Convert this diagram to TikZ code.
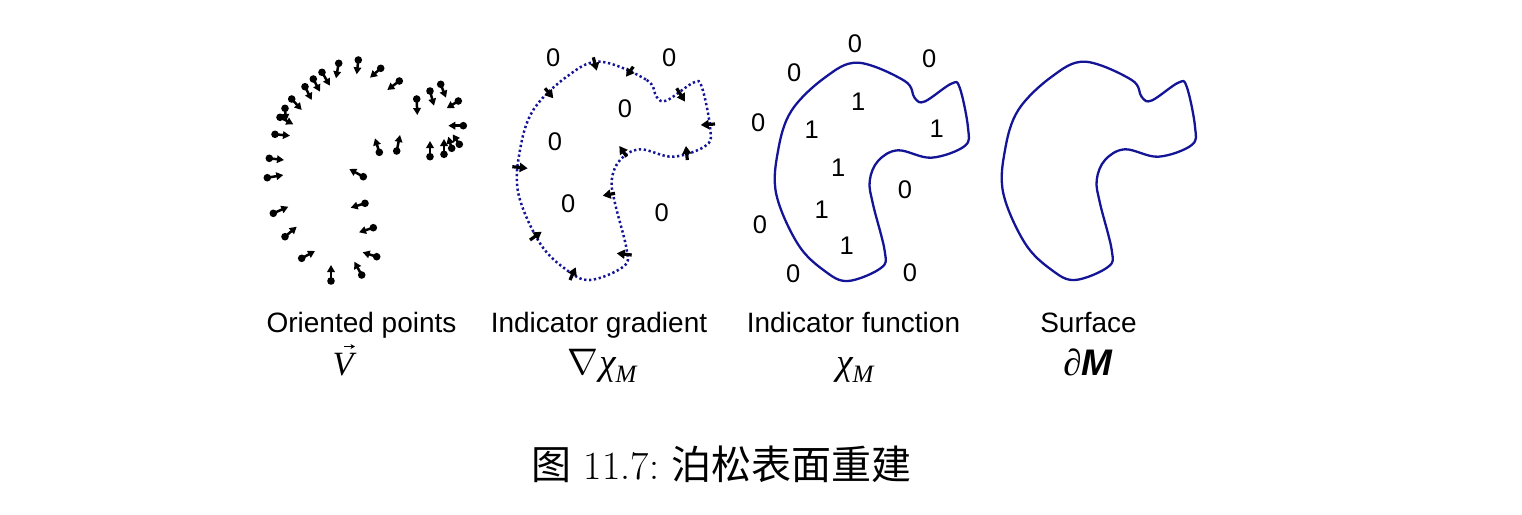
\documentclass[tikz,border=0pt]{standalone}
\usepackage{fix-cm}
\usepackage{fontspec}
\newfontfamily\sans{Liberation Sans}
\newfontfamily\serif{Liberation Serif}
\newfontfamily\cjk{Noto Sans CJK SC}
\usetikzlibrary{arrows.meta}
\definecolor{curveblue}{RGB}{20,20,150}
\tikzset{
 shapeline/.style={draw=curveblue, line width=2.3pt},
 dotline/.style={draw=curveblue, line width=2.5pt, dash pattern=on 2.3pt off 2.6pt},
 orientarrow/.style={line width=2.5pt, -{Triangle[length=7pt,width=7.5pt]}},
 gradarrow/.style={line width=3.2pt, -{Triangle[length=8pt,width=9pt]}},
 num/.style={font=\sans\fontsize{25.5}{26}\selectfont, inner sep=0pt},
 lbl/.style={font=\sans\fontsize{28}{30}\selectfont, inner sep=0pt, anchor=base},
 mathlbl/.style={font=\fontsize{34}{36}\selectfont, inner sep=0pt, anchor=base},
 mathbig/.style={font=\fontsize{37}{40}\selectfont, inner sep=0pt, anchor=base},
}
\begin{document}
\begin{tikzpicture}[x=1pt,y=-1pt]
\useasboundingbox (0,0) rectangle (1522,514);
% the three outlines (surface, indicator function, dotted gradient)
\foreach \sx/\sy/\st in {0/0/shapeline, -227/-1/shapeline, -485/0/dotline}{
 \draw[\st, xshift=\sx pt, yshift=\sy pt] plot[smooth cycle, tension=0.6] coordinates {
 (1085,61.7) (1131.7,80) (1141.7,97) (1151.7,100.5) (1178.3,82.7) (1186.7,86.7)
 (1195,126.7) (1191.7,145) (1158.3,156.7) (1125,149.3) (1105,160) (1096.7,180)
 (1100,203.3) (1111.7,250) (1108.3,266.7) (1075,280) (1051.7,270) (1025,243.3)
 (1003.3,193.3) (1005,150) (1018.3,110) (1051.7,76.7)};
}
% oriented points
\foreach \ax/\ay/\bx/\by in {
 358.3/60/356.7/74.3, 338.7/63.3/336/78.3, 322/72.3/330/85.7, 313.3/79/320/91.7,
 305/86.7/311.7/100, 291.7/99/301.7/110, 285/108.3/286/121, 280/117.3/293.3/124.3,
 275/134.3/290/135.7, 269.3/158.3/284/160,
 380.7/68.3/370/77.7, 399.3/81/387.3/90, 416.7/99/417.3/115, 430/91/434/105.7,
 440.7/84.3/446/97.7, 458.3/101/446.7/108.3, 463.3/125.7/448.3/125.7,
 459.3/144.3/452.7/134.3, 451.7/148.3/448.3/136.7, 444/154.3/444/139,
 430/156.7/430/141, 396.7/151/400/135, 379.3/152.3/375/138.3,
 267.3/177.7/283.3/175, 273.3/213.3/288.3/206.7, 285/236.7/296.7/226.7,
 301.7/258.3/315/251, 331/281/331/265, 361.7/275/354.3/261.7,
 376.7/256.7/362.7/252.3, 373.3/227.7/359/232.3, 365/203.3/350.7/207.7,
 363.3/176.7/349.3/169}{
 \fill (\ax,\ay) circle[radius=3.8pt];
 \draw[orientarrow] (\ax,\ay) -- (\bx,\by);
}
% gradient arrows
\foreach \ax/\ay/\bx/\by in {
 593.3/57.3/596.7/70.7, 545/88.3/553.3/98.3, 512.3/166.7/527.7/168.3,
 530/240/541.7/231.7, 570/280/575.7/267.3, 615/193.3/602.7/195.7,
 633.3/66.7/626/76.7, 676.7/88.3/685/101.7, 715/124/700.7/125,
 687.3/160/686/146, 626.7/156.7/619.3/146, 631.7/255/616.7/253.3}{
 \draw[gradarrow] (\ax,\ay) -- (\bx,\by);
}
% numbers, gradient panel
\node[num] (g1) at (553.3,58) {0};
\node[num] (g2) at (669.3,58) {0};
\node[num] (g3) at (625,109) {0};
\node[num] (g4) at (555,142) {0};
\node[num] (g5) at (568.3,204) {0};
\node[num] (g6) at (661.7,213) {0};
% numbers, indicator function panel
\node[num] (f1) at (855,44) {0};
\node[num] (f2) at (929.3,58.5) {0};
\node[num] (f3) at (794.3,73) {0};
\node[num] (f4) at (758.3,123) {0};
\node[num] (f5) at (760,224.5) {0};
\node[num] (f6) at (793.3,274) {0};
\node[num] (f7) at (910,272.5) {0};
\node[num] (f8) at (905,190) {0};
\node[num] (h1) at (858.3,101.5) {1};
\node[num] (h2) at (811.7,130) {1};
\node[num] (h3) at (936.7,128.5) {1};
\node[num] (h4) at (838.3,167.5) {1};
\node[num] (h5) at (821.7,210) {1};
\node[num] (h6) at (846.7,246) {1};
% labels
\node[lbl] (l1) at (361.5,332) {Oriented points};
\node[lbl] (l2) at (599,332) {Indicator gradient};
\node[lbl] (l3) at (853.5,332) {Indicator function};
\node[lbl] (l4) at (1088.5,332) {Surface};
\node[mathlbl] (m1) at (343,375) {\serif\itshape V};
\draw[line width=1.3pt, -{Stealth[length=4.5pt,width=5pt]}] ([xshift=1pt,yshift=6pt]m1.north) -- ([xshift=12pt,yshift=6pt]m1.north);
\node[mathbig] (m2) at (602,374) {$\nabla$\kern1pt{\serif\itshape χ}\raisebox{-8pt}{\fontsize{25}{25}\selectfont\serif\itshape M}};
\node[mathbig] (m3) at (855,374) {{\serif\itshape χ}\raisebox{-8pt}{\fontsize{25}{25}\selectfont\serif\itshape M}};
\node[mathbig] (m4) at (1088,375) {{\serif ∂}{\sans\bfseries\itshape M}};
% caption
\node[anchor=base, inner sep=0pt, font=\fontsize{40}{44}\selectfont] (cap) at (721.5,479) {{\cjk 图}\ 11.7:\ {\cjk 泊松表面重建}};
\end{tikzpicture}
\end{document}
